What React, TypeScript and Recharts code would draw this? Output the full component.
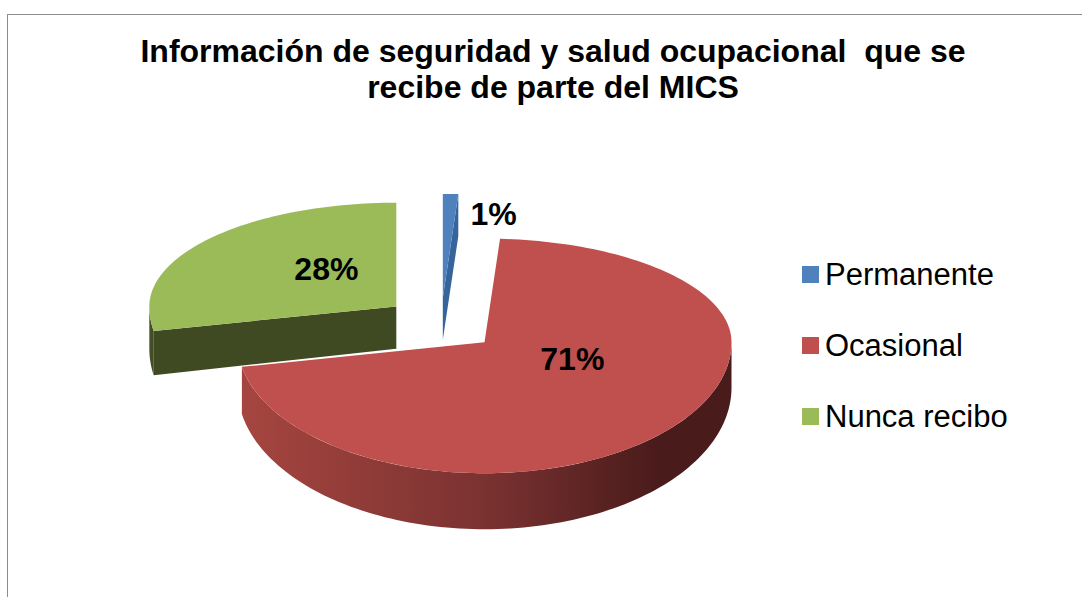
import React from "react";
import { PieChart, Pie, Cell, Legend } from "recharts";

// legend order
const categories = ["Permanente", "Ocasional", "Nunca recibo"];
// percentages
const shares = [1, 71, 28];
// back slice first, so the big front slice is painted over it
const drawOrder = ["Nunca recibo", "Permanente", "Ocasional"];

const topColors: Record<string, string> = {
  Permanente: "#4F81BD",
  Ocasional: "#C0504D",
  "Nunca recibo": "#9BBB59",
};
const cutColors: Record<string, string> = {
  Permanente: "#36659C",
  Ocasional: "#8B3A3A",
  "Nunca recibo": "#3F4A22",
};
const wallStops: Record<string, string[]> = {
  Permanente: ["#3D6DA6", "#325C8E", "#2B5282"],
  Ocasional: ["#A6453F", "#7A3231", "#4A1B1B"],
  "Nunca recibo": ["#46532A", "#424E25", "#3F4A22"],
};

const data = drawOrder.map((name) => ({
  name,
  value: shares[categories.indexOf(name)],
}));
const total = shares.reduce((a, b) => a + b, 0);
// first slice (Permanente) starts at 12 o'clock and runs clockwise
const START = 90 + (360 * shares[categories.indexOf("Nunca recibo")]) / total;

const RAD = Math.PI / 180;
const RY_BACK = 0.42;
const RY_FRONT = 0.53;
const EXPLODE = 58;
const FONT = "'Liberation Sans', Arial, sans-serif";

const ry = (s: number, r: number) => r * (s > 0 ? RY_BACK : RY_FRONT);
// thickness grows towards the viewer (rough perspective)
const depthAt = (y: number) => 42 + Math.max(0, y - 303) * 0.082;

const apex = (cx: number, cy: number, mid: number) => {
  const m = mid * RAD;
  const s = Math.sin(m);
  return {
    ox: cx + EXPLODE * Math.cos(m),
    oy: cy - EXPLODE * s * (s > 0 ? RY_BACK : RY_FRONT),
  };
};

const Slice3D = (props: any) => {
  const { cx, cy, outerRadius: r, startAngle, endAngle, midAngle, payload } = props;
  const name: string = payload?.name ?? props.name;
  const a0 = Math.min(startAngle, endAngle);
  const a1 = Math.max(startAngle, endAngle);
  const { ox, oy } = apex(cx, cy, midAngle);

  const pt = (deg: number, low = false) => {
    const a = deg * RAD;
    const s = Math.sin(a);
    const y = oy - ry(s, r) * s;
    return [ox + r * Math.cos(a), low ? y + depthAt(y) : y];
  };
  const arc = (from: number, to: number, low = false) => {
    const n = Math.max(2, Math.ceil(Math.abs(to - from) / 1.5));
    const out: number[][] = [];
    for (let i = 0; i <= n; i++) out.push(pt(from + ((to - from) * i) / n, low));
    return out;
  };
  const poly = (pts: number[][]) =>
    "M" + pts.map((p) => `${p[0].toFixed(2)},${p[1].toFixed(2)}`).join("L") + "Z";

  // cut faces facing the viewer
  const cuts: number[] = [];
  if (Math.sin((a0 - 90) * RAD) < -1e-6) cuts.push(a0);
  if (Math.sin((a1 + 90) * RAD) < -1e-6) cuts.push(a1);

  // front part of the outer wall
  const walls: [number, number][] = [];
  for (let k = -2; k <= 2; k++) {
    const lo = Math.max(a0, 180 + 360 * k);
    const hi = Math.min(a1, 360 + 360 * k);
    if (hi > lo) walls.push([lo, hi]);
  }

  const gid = `wall-${name.replace(/\s/g, "")}`;
  const stops = wallStops[name];
  return (
    <g>
      <defs>
        <linearGradient id={gid} x1="0" y1="0" x2="1" y2="0">
          <stop offset="0%" stopColor={stops[0]} />
          <stop offset="50%" stopColor={stops[1]} />
          <stop offset="85%" stopColor={stops[2]} />
          <stop offset="100%" stopColor={stops[2]} />
        </linearGradient>
      </defs>
      {cuts.map((a) => (
        <path
          key={`cut-${a}`}
          d={poly([[ox, oy], pt(a), pt(a, true), [ox, oy + depthAt(oy)]])}
          fill={cutColors[name]}
        />
      ))}
      {walls.map(([lo, hi]) => (
        <path
          key={`wall-${lo}`}
          d={poly([...arc(lo, hi), ...arc(hi, lo, true)])}
          fill={`url(#${gid})`}
        />
      ))}
      <path d={poly([[ox, oy], ...arc(a0, a1)])} fill={topColors[name]} />
    </g>
  );
};

const renderLabel = (p: any) => {
  const { cx, cy, midAngle, outerRadius: r, percent } = p;
  const { ox, oy } = apex(cx, cy, midAngle);
  const m = midAngle * RAD;
  const s = Math.sin(m);
  let x: number;
  let y: number;
  if (percent < 0.05) {
    x = ox + r * Math.cos(m) + 43;
    y = oy - ry(s, r) * s + 20;
  } else {
    x = ox + 0.42 * r * Math.cos(m) + 10;
    y = oy - 0.35 * ry(s, r) * s - 14;
  }
  return (
    <text
      x={x}
      y={y}
      textAnchor="middle"
      dominantBaseline="central"
      fontFamily={FONT}
      fontSize={32}
      fontWeight="bold"
      fill="#000"
    >
      {`${Math.round(percent * 100)}%`}
    </text>
  );
};

const renderLegend = (props: any) => {
  const items = [...(props.payload ?? [])].sort(
    (a: any, b: any) => categories.indexOf(a.value) - categories.indexOf(b.value)
  );
  return (
    <div style={{ fontFamily: FONT, fontSize: 31, color: "#000" }}>
      {items.map((it: any) => (
        <div
          key={it.value}
          style={{ display: "flex", alignItems: "center", height: 71 }}
        >
          <span
            style={{
              display: "inline-block",
              width: 17,
              height: 17,
              background: topColors[it.value],
              marginRight: 6,
            }}
          />
          <span>{it.value}</span>
        </div>
      ))}
    </div>
  );
};

export default function App() {
  return (
    <div
      style={{
        position: "absolute",
        left: 0,
        top: 0,
        width: 1082,
        height: 597,
        overflow: "hidden",
        background: "#fff",
      }}
    >
      <div
        style={{
          position: "absolute",
          left: 7,
          top: 14,
          width: 1074,
          height: 582,
          borderLeft: "1px solid #8c8c8c",
          borderTop: "1px solid #8c8c8c",
        }}
      />
      <div
        style={{
          position: "absolute",
          left: 53,
          top: 33,
          width: 1000,
          textAlign: "center",
          fontFamily: FONT,
          fontWeight: "bold",
          fontSize: 32,
          lineHeight: "36px",
          whiteSpace: "pre",
          color: "#000",
        }}
      >
        {"Información de seguridad y salud ocupacional  que se\nrecibe de parte del MICS"}
      </div>
      <div style={{ position: "absolute", left: 0, top: 0 }}>
        <PieChart
          width={1082}
          height={597}
          margin={{ top: 0, right: 0, bottom: 0, left: 0 }}
        >
          <Pie
            data={data}
            dataKey="value"
            nameKey="name"
            cx={441}
            cy={322}
            outerRadius={247}
            startAngle={START}
            endAngle={START - 360}
            stroke="none"
            shape={Slice3D}
            activeShape={Slice3D}
            inactiveShape={Slice3D}
            label={renderLabel}
            labelLine={false}
            isAnimationActive={false}
          >
            {data.map((d) => (
              <Cell key={d.name} fill={topColors[d.name]} />
            ))}
          </Pie>
          <Legend
            layout="vertical"
            align="right"
            verticalAlign="top"
            content={renderLegend}
            wrapperStyle={{ left: 802, top: 239, width: 280 }}
          />
        </PieChart>
      </div>
    </div>
  );
}
